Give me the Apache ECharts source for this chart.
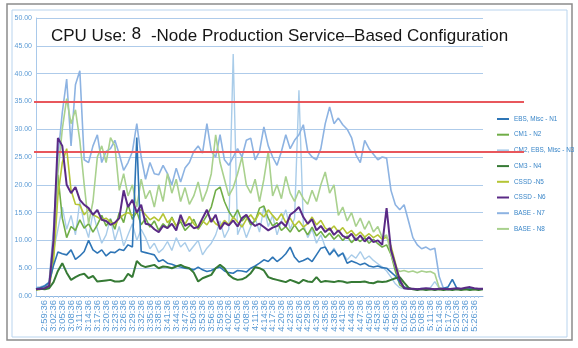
<!DOCTYPE html>
<html>
<head>
<meta charset="utf-8">
<script src="https://cdn.jsdelivr.net/npm/echarts@6/dist/echarts.min.js"></script>
<style>
html,body{margin:0;padding:0;background:#fff;}
#c{width:578px;height:348px;}
</style>
</head>
<body>
<div id="c"></div>
<script>
// Tick labels (every 3 minutes); data sampled every 1.5 minutes
const tickLabels = ['2:56:36','2:59:36','3:02:36','3:05:36','3:08:36','3:11:36','3:14:36','3:17:36','3:20:36','3:23:36','3:26:36','3:29:36','3:32:36','3:35:36','3:38:36','3:41:36','3:44:36','3:47:36','3:50:36','3:53:36','3:56:36','3:59:36','4:02:36','4:05:36','4:08:36','4:11:36','4:14:36','4:17:36','4:20:36','4:23:36','4:26:36','4:29:36','4:32:36','4:35:36','4:38:36','4:41:36','4:44:36','4:47:36','4:50:36','4:53:36','4:56:36','4:59:36','5:02:36','5:05:36','5:08:36','5:11:36','5:14:36','5:17:36','5:20:36','5:23:36','5:26:36','5:29:36'];

const seriesNames = ['EBS, Misc - N1','CM1 - N2','CM2, EBS, Misc - N3','CM3 - N4','CSSD -N5','CSSD - N6','BASE - N7','BASE - N8'];

const n1 = [1.3,1.5,1.8,2.4,5.5,7.9,7.6,7.4,8.3,6.6, 7.2,8.0,10.0,8.3,7.7,8.3,7.2,7.9,7.8,8.4, 8.2,9.2,8.8,28.5,8.0,7.8,7.6,7.4,6.2,6.5, 5.9,5.7,5.4,5.2,5.0,4.9,4.7,5.2,4.7,4.4, 4.6,5.0,5.2,4.5,4.2,4.1,4.6,4.5,4.3,5.0, 5.4,5.9,6.5,6.2,7.0,6.2,6.8,7.6,8.8,7.0, 6.1,6.4,6.8,6.2,7.4,8.6,8.8,7.4,8.3,7.2, 7.7,5.9,6.3,6.0,5.6,5.9,5.4,5.2,5.4,5.1, 5.0,4.3,3.6,2.5,1.6,1.3,1.3,1.2,1.3,1.2, 1.3,1.2,1.3,1.4,1.6,3.0,1.4,1.3,1.2,1.3, 1.2,1.3,1.3];
const n2 = [1.2,1.2,1.3,1.8,8.0,21.8,14.0,10.5,12.5,11.8, 13.7,12.2,13.0,11.5,12.8,14.5,12.6,13.8,12.0,15.0, 13.2,16.5,13.8,15.2,12.8,14.0,12.4,13.5,11.8,13.0, 12.2,14.2,12.5,13.4,11.8,12.6,13.8,12.0,13.2,14.5, 16.0,19.0,19.6,17.0,15.2,14.0,15.5,13.5,14.4,12.8, 13.5,15.8,16.2,14.0,12.6,13.2,11.8,12.5,11.5,12.8, 11.6,12.2,11.0,12.4,10.8,11.6,10.5,11.3,10.2,11.0, 10.0,10.8,9.6,10.4,9.8,10.5,9.5,10.2,9.4,8.8, 9.2,7.5,4.5,2.0,1.4,1.3,1.3,1.2,1.3,1.2, 1.2,1.3,1.2,1.3,1.2,1.2,1.3,1.2,1.3,1.2, 1.2,1.3,1.2];
const n3 = [1.3,1.4,1.6,2.0,8.0,12.0,16.0,12.0,14.5,11.0, 17.0,13.0,10.5,15.0,12.0,9.5,11.0,14.0,10.0,12.5, 9.0,11.0,13.0,10.0,12.0,10.5,8.5,9.5,7.8,8.5, 9.8,8.2,10.5,8.8,9.6,8.0,9.0,10.0,7.4,8.6, 9.5,11.0,13.5,10.5,12.0,43.5,11.0,13.0,10.5,12.5, 14.0,11.5,16.0,12.5,14.5,11.0,13.5,15.5,12.0,14.0, 37.0,13.0,10.5,12.0,9.5,11.0,8.8,7.5,8.6,7.0, 7.8,6.5,7.4,6.8,8.0,6.6,7.2,6.4,5.8,5.2, 4.5,3.4,2.2,1.5,1.3,1.2,1.3,1.2,1.4,1.3, 1.5,2.6,1.4,1.2,1.3,1.2,1.3,1.2,1.2,1.3, 1.2,1.3,1.2];
const n4 = [1.2,1.3,1.2,1.4,2.5,4.5,5.9,4.2,2.9,3.4, 3.8,4.0,3.2,3.6,2.6,2.7,2.8,2.9,2.6,2.6, 2.8,4.0,3.4,6.3,5.5,5.2,5.4,5.6,5.0,5.3, 5.2,5.0,5.3,5.6,5.2,5.0,4.2,2.6,3.2,3.5, 3.8,5.0,5.6,5.0,3.8,3.2,2.9,3.0,3.4,4.1, 5.2,5.0,4.6,3.4,3.1,2.9,2.7,2.5,2.9,2.6, 2.3,2.9,2.6,2.5,3.4,2.5,2.7,2.6,2.5,2.7, 2.6,2.4,2.5,2.5,2.5,2.6,2.4,2.3,2.6,2.5, 2.6,2.9,3.2,3.4,2.4,1.5,1.2,1.1,1.2,1.1, 1.2,1.1,1.2,1.1,1.2,1.1,1.2,1.1,1.2,1.1, 1.2,1.1,1.2];
const n5 = [1.1,1.2,1.3,1.6,6.0,18.0,24.0,26.5,19.0,16.5, 16.4,14.6,15.5,14.6,14.2,13.7,14.0,13.3,12.8,14.0, 14.6,15.0,14.5,15.2,15.5,14.6,13.7,14.2,13.5,14.8, 13.2,14.0,12.6,13.8,12.9,14.3,13.0,12.2,13.5,12.8, 14.0,13.0,12.5,13.6,12.8,14.2,13.3,12.4,13.8,14.6, 13.5,15.0,14.2,15.5,14.5,13.6,14.8,13.2,14.0,12.6, 13.5,12.4,13.0,14.2,12.8,13.6,12.2,11.8,12.6,11.5, 12.3,11.2,11.8,10.8,11.5,10.6,11.2,10.5,11.0,10.2, 10.6,9.0,6.0,3.0,1.6,1.3,1.2,1.3,1.2,1.3, 1.2,1.3,1.2,1.2,1.3,1.2,1.3,1.2,1.2,1.3, 1.2,1.2,1.3];
const n6 = [1.2,1.3,1.4,1.8,10.0,28.4,27.0,20.0,18.5,19.6, 17.3,16.4,15.8,14.6,15.5,13.7,13.5,12.8,13.2,14.0, 19.0,16.0,17.3,15.0,16.4,13.0,12.8,12.0,11.5,12.6, 12.2,13.0,11.8,14.6,12.6,13.0,12.2,12.4,14.0,15.5, 13.3,14.6,12.0,13.2,12.7,13.6,12.5,14.0,14.6,13.3, 12.6,13.0,12.4,11.8,12.3,12.6,13.3,12.5,14.6,15.2, 16.0,14.2,13.0,13.8,11.8,12.6,11.5,12.2,11.0,11.8, 10.8,10.4,11.2,10.0,10.9,9.8,10.6,9.7,10.0,9.2, 15.8,8.3,5.6,2.9,1.4,1.3,1.3,1.2,1.3,1.4, 1.3,1.2,1.3,1.3,1.2,1.3,1.4,1.3,1.5,1.6, 1.4,1.3,1.3];
const n7 = [1.5,1.6,1.9,2.5,12.0,25.0,33.0,39.0,27.0,38.0, 40.5,24.5,24.0,27.0,29.0,24.0,26.0,26.5,28.0,25.5, 22.6,24.0,26.0,31.0,25.0,21.0,24.0,22.0,21.8,23.5, 22.0,20.0,23.0,20.5,23.0,24.0,26.0,27.0,25.7,31.0, 26.0,25.0,29.0,24.5,23.5,25.0,26.5,25.0,28.0,28.4, 24.5,26.0,30.4,27.0,25.0,23.5,26.0,29.0,26.5,28.0, 29.0,30.8,26.0,25.0,24.5,26.5,31.0,34.0,31.0,32.0, 30.8,30.0,28.5,25.4,24.0,28.0,26.5,25.5,24.5,25.0, 24.8,19.0,16.4,15.5,16.4,13.5,10.5,9.2,8.5,8.8, 8.3,8.6,3.5,1.3,1.3,1.2,1.3,1.2,1.3,1.2, 1.3,1.2,1.3];
const n8 = [1.2,1.3,1.5,2.2,10.0,22.0,30.0,35.5,31.0,33.5, 28.0,20.0,13.0,17.0,25.0,27.0,24.0,28.5,27.0,19.0, 22.0,18.0,20.0,16.0,21.0,17.5,19.0,16.0,20.0,17.0, 22.0,18.5,21.0,17.0,19.5,16.5,18.0,20.5,17.0,19.0, 22.0,29.0,24.0,21.0,18.0,19.5,22.0,25.0,20.0,18.5, 21.0,17.0,21.0,26.0,18.0,20.0,17.5,21.5,18.5,17.0, 19.0,17.5,16.5,19.0,17.0,20.0,22.3,18.5,20.0,14.5, 16.0,13.5,15.0,12.5,14.0,12.0,13.5,11.5,12.5,10.5, 11.0,7.5,5.2,4.4,4.6,4.3,4.5,4.2,4.5,4.3, 4.4,4.0,1.5,1.2,1.2,1.3,1.2,1.2,1.3,1.2, 1.2,1.3,1.2];

const refLines = [35, 26];

// build 1.5-minute categories between the 3-minute tick labels
function addSec(t, s) {
  const p = t.split(':').map(Number);
  let tot = p[0]*3600 + p[1]*60 + p[2] + s;
  const h = Math.floor(tot/3600), m = Math.floor((tot%3600)/60), sc = tot%60;
  return h + ':' + String(m).padStart(2,'0') + ':' + String(sc).padStart(2,'0');
}
const categories = [];
tickLabels.forEach((t, k) => {
  categories.push(t);
  if (k < tickLabels.length - 1) categories.push(addSec(t, 90));
});

const colors = ['#2e75b6','#70ad47','#a9cce9','#367a35','#b5c535','#5a2a86','#8db3e2','#a9d18e'];
const widths = [1.6,1.6,1.4,2,1.6,2,1.6,1.6];
const zs = [4,3,2,4,3,5,2,3];
const values = [n1,n2,n3,n4,n5,n6,n7,n8];

const series = seriesNames.map((name, i) => ({
  name: name,
  type: 'line',
  data: values[i],
  symbol: 'none',
  z: zs[i],
  lineStyle: { color: colors[i], width: widths[i] },
  itemStyle: { color: colors[i] },
  xAxisIndex: 0, yAxisIndex: 0,
  animation: false
}));
series.push({
  name: 'ref',
  type: 'line',
  xAxisIndex: 1, yAxisIndex: 1,
  data: [],
  symbol: 'none',
  animation: false,
  markLine: {
    silent: true,
    symbol: 'none',
    label: { show: false },
    lineStyle: { color: '#e8575c', width: 2, type: 'solid' },
    data: refLines.map(v => ({ yAxis: v }))
  }
});

const chart = echarts.init(document.getElementById('c'), null, { renderer: 'canvas' });
chart.setOption({
  backgroundColor: '#ffffff',
  animation: false,
  title: {
    text: 'CPU Use: {n|8}  -Node Production Service\u2013Based Configuration',
    left: 46, top: 22,
    textStyle: {
      fontFamily: 'Liberation Sans, Arial, sans-serif',
      fontSize: 17, fontWeight: 'normal', color: '#151515',
      rich: { n: { fontFamily: 'DejaVu Sans', fontSize: 16, color: '#151515', padding: [0,0,3,0] } }
    }
  },
  legend: {
    data: seriesNames,
    orient: 'vertical',
    left: 492, top: 110,
    icon: 'rect',
    itemWidth: 12, itemHeight: 2,
    itemGap: 7.7,
    textStyle: { fontFamily: 'Liberation Sans, Arial, sans-serif', fontSize: 6.4, lineHeight: 8, color: '#3a86c8' }
  },
  graphic: [
    { type: 'rect', shape: { x: 7, y: 4, width: 565, height: 336 }, style: { fill: 'none', stroke: '#8c8c8c', lineWidth: 1.5 }, z: 0 },
    { type: 'rect', shape: { x: 12, y: 10, width: 555, height: 327 }, style: { fill: 'none', stroke: '#b9d4ee', lineWidth: 1 }, z: 0 }
  ],
  grid: [
    { left: 36, right: 95, top: 18, bottom: 52 },
    { left: 34, right: 54, top: 18, bottom: 52 }
  ],
  xAxis: [
    {
      type: 'category', gridIndex: 0, data: categories, boundaryGap: false,
      axisLine: { lineStyle: { color: '#8fb7e0', width: 1 } },
      axisTick: { show: true, interval: 0, length: 2, lineStyle: { color: '#a9c9ea' } },
      axisLabel: {
        interval: 1, rotate: 90, margin: 4,
        fontFamily: 'Liberation Sans, Arial, sans-serif', fontSize: 9.5, color: '#5b9bd5'
      },
      splitLine: { show: false }
    },
    { type: 'value', gridIndex: 1, min: 0, max: 1, show: false }
  ],
  yAxis: [
    {
      type: 'value', gridIndex: 0, min: 0, max: 50, interval: 5,
      axisLine: { show: true, lineStyle: { color: '#a9c9ea' } },
      axisTick: { show: false },
      axisLabel: {
        margin: 4, fontFamily: 'Liberation Sans, Arial, sans-serif', fontSize: 7, color: '#5b9bd5',
        formatter: v => v.toFixed(2)
      },
      splitLine: { show: true, lineStyle: { color: '#aecbea', width: 1 } }
    },
    { type: 'value', gridIndex: 1, min: 0, max: 50, show: false }
  ],
  series: series
});
</script>
</body>
</html>
